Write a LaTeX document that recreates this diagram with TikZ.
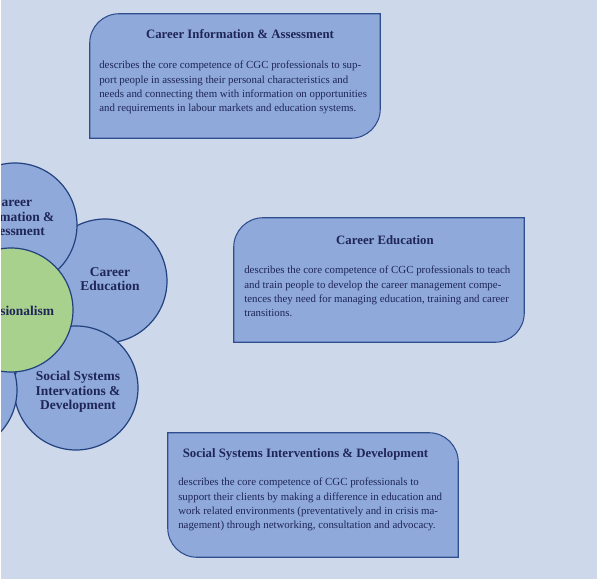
\documentclass[tikz,border=0pt]{standalone}
\usepackage{fontspec}
\setmainfont{Liberation Serif}
\definecolor{pagebg}{HTML}{CDD8EB}
\definecolor{petalfill}{HTML}{8EA9DA}
\definecolor{petalline}{HTML}{22417E}
\definecolor{hubfill}{HTML}{A8D18D}
\definecolor{cardline}{HTML}{2F4E8E}
\definecolor{ink}{HTML}{1F2657}
\tikzset{
  petal/.style     = {circle, draw=petalline, line width=0.9pt, fill=petalfill,
                      minimum size=93pt, inner sep=0pt},
  hub/.style       = {petal, fill=hubfill},
  petaltext/.style = {align=center, text=ink, inner sep=0pt,
                      font=\fontsize{10.1}{10.8}\selectfont\bfseries},
  card/.style      = {minimum width=217.5pt, minimum height=93pt, inner sep=0pt},
  cardedge/.style  = {draw=cardline, line width=0.8pt, fill=petalfill},
  cardtitle/.style = {text=ink, inner sep=0pt, anchor=base,
                      font=\fontsize{9.6}{11}\selectfont\bfseries},
  cardbody/.style  = {text=ink, inner sep=0pt, anchor=north west, align=left,
                      font=\fontsize{8.15}{10.6}\selectfont},
}

\begin{document}
\begin{tikzpicture}[x=0.75pt,y=-0.75pt]
  \useasboundingbox (0,0) rectangle (597,579);
  \fill[pagebg] (1,0) rectangle (597,579);

  % the flower, cut by the left edge
  \begin{scope}
    \clip (1,0) rectangle (597,579);
    \node[petal] (careered) at (105,281) {};
    \node[petaltext] (careeredtext) at (110,279) {Career\\Education};
    \node[petal] (socsys) at (76,388) {};
    \node[petaltext] (socsystext) at (78,392) {Social Systems\\Intervations \&\\Development};
    \node[petal] (lowpetal) at (-45,390) {};
    \node[petal] (careerinfo) at (15,225) {};
    \node[petaltext] (careerinfotext) at (12,217) {Career\\Information \&\\Assessment};
    \node[hub] (prof) at (11,310) {};
    \node[petaltext] (proftext) at (9,311) {Professionalism};
  \end{scope}

  % card 1
  \node[card] (infocard) at (235,76) {};
  \draw[cardedge] (infocard.south west) -- ([yshift=-22pt]infocard.north west)
    arc[start angle=180, end angle=90, radius=22pt] -- (infocard.north east)
    -- ([yshift=22pt]infocard.south east)
    arc[start angle=0, end angle=-90, radius=22pt] -- cycle;
  \node[cardtitle] (infotitle) at (240,38.5) {Career Information \& Assessment};
  \node[cardbody] (infobody) at (99,61) {describes the core competence of CGC professionals to sup-\\
    port people in assessing their personal characteristics and\\
    needs and connecting them with information on opportunities\\
    and requirements in labour markets and education systems.};

  % card 2
  \node[card] (educard) at (379,280) {};
  \draw[cardedge] (educard.south west) -- ([yshift=-22pt]educard.north west)
    arc[start angle=180, end angle=90, radius=22pt] -- (educard.north east)
    -- ([yshift=22pt]educard.south east)
    arc[start angle=0, end angle=-90, radius=22pt] -- cycle;
  \node[cardtitle] (edutitle) at (385,244.5) {Career Education};
  \node[cardbody] (edubody) at (244,266) {describes the core competence of CGC professionals to teach\\
    and train people to develop the career management compe-\\
    tences they need for managing education, training and career\\
    transitions.};

  % card 3
  \node[card] (sscard) at (313,495) {};
  \draw[cardedge] (sscard.north west) -- ([xshift=-22pt]sscard.north east)
    arc[start angle=90, end angle=0, radius=22pt] -- (sscard.south east)
    -- ([xshift=22pt]sscard.south west)
    arc[start angle=270, end angle=180, radius=22pt] -- cycle;
  \node[cardtitle] (sstitle) at (305.5,457.5) {Social Systems Interventions \& Development};
  \node[cardbody] (ssbody) at (178,478) {describes the core competence of CGC professionals to\\
    support their clients by making a difference in education and\\
    work related environments (preventatively and in crisis ma-\\
    nagement) through networking, consultation and advocacy.};
\end{tikzpicture}
\end{document}
